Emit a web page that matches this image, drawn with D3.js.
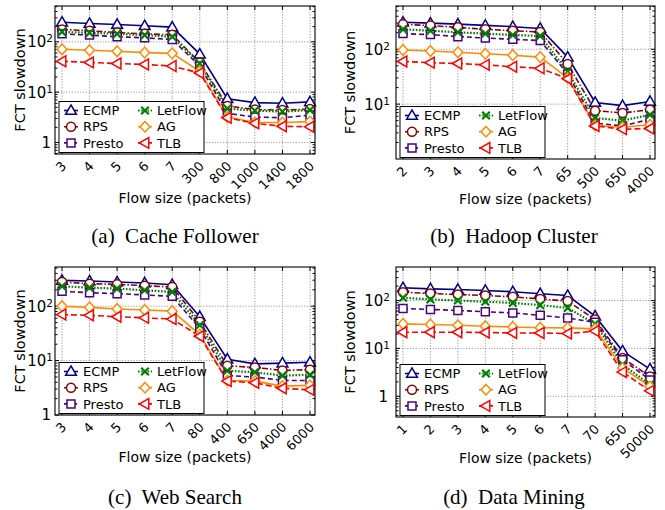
<!DOCTYPE html>
<html>
<head>
<meta charset="utf-8">
<script src="https://cdn.jsdelivr.net/npm/d3@7"></script>
<style>
  body { margin: 0; background: #fff; }
  svg { display: block; }
</style>
</head>
<body>
<script>
// ---- data -------------------------------------------------------------
const seriesNames = ["ECMP", "RPS", "Presto", "LetFlow", "AG", "TLB"];

// (a) Cache Follower
const cacheSizes = ["3", "4", "5", "6", "7", "300", "800", "1000", "1400", "1800"];
const cacheECMP    = [245, 231, 221, 208, 196, 57, 7.4, 6.2, 6.0, 6.4];
const cacheRPS     = [176, 166, 153, 144, 138, 39, 5.3, 4.5, 4.4, 4.6];
const cachePresto  = [144, 136, 126, 120, 111, 33, 3.8, 3.2, 3.1, 3.5];
const cacheLetFlow = [158, 151, 144, 136, 126, 37, 4.7, 4.3, 4.1, 4.4];
const cacheAG      = [71, 68, 65, 61, 59, 26, 3.2, 2.5, 2.5, 2.6];
const cacheTLB     = [41, 39, 37, 35.5, 33, 24, 3.1, 2.4, 2.1, 2.05];

// (b) Hadoop Cluster
const hadoopSizes = ["2", "3", "4", "5", "6", "7", "65", "500", "650", "4000"];
const hadoopECMP    = [310, 300, 287, 273, 258, 240, 72, 10.7, 9.4, 11.2];
const hadoopRPS     = [285, 270, 251, 231, 218, 207, 54, 7.6, 6.9, 7.9];
const hadoopPresto  = [193, 185, 170, 161, 152, 144, 35.5, 4.5, 4.0, 5.3];
const hadoopLetFlow = [231, 218, 204, 193, 182, 175, 39, 5.6, 5.0, 6.4];
const hadoopAG      = [97, 93, 88, 83, 78, 72, 30, 4.1, 3.8, 4.2];
const hadoopTLB     = [60, 57, 55, 52, 48, 45, 29, 4.0, 3.5, 3.6];

// (c) Web Search
const webSizes = ["3", "4", "5", "6", "7", "80", "400", "650", "4000", "6000"];
const webECMP    = [298, 290, 278, 267, 248, 64, 10.6, 8.7, 9.0, 9.3];
const webRPS     = [278, 259, 252, 238, 225, 52, 8.0, 7.5, 6.6, 6.8];
const webPresto  = [188, 177, 170, 161, 152, 39, 5.3, 5.0, 4.3, 4.3];
const webLetFlow = [232, 219, 210, 196, 183, 45, 6.5, 6.1, 5.3, 5.5];
const webAG      = [100, 95, 89, 85, 81, 30, 4.3, 4.2, 3.4, 3.5];
const webTLB     = [70, 68, 64, 61, 58, 28, 4.2, 3.9, 3.1, 2.9];

// (d) Data Mining
const miningSizes = ["1", "2", "3", "4", "5", "6", "7", "70", "650", "50000"];
const miningECMP    = [184, 175, 170, 162, 152, 138, 127, 47, 8.8, 3.7];
const miningRPS     = [149, 140, 133, 127, 119, 108, 97, 40, 6.3, 2.6];
const miningPresto  = [68, 65, 62, 58, 55, 49, 43, 35, 5.8, 2.2];
const miningLetFlow = [114, 105, 100, 94, 89, 80, 70, 32.5, 4.6, 1.75];
const miningAG      = [32.5, 31.5, 30.5, 29, 28, 27, 26.8, 25.6, 3.9, 1.6];
const miningTLB     = [21.8, 21.8, 21.8, 21.5, 21, 21, 20.4, 23, 3.2, 1.3];

const captions = ["(a)  Cache Follower", "(b)  Hadoop Cluster", "(c)  Web Search", "(d)  Data Mining"];

// ---- layout & styles --------------------------------------------------
const W = 665, H = 510;

const panels = [
  { sizes: cacheSizes,  values: [cacheECMP, cacheRPS, cachePresto, cacheLetFlow, cacheAG, cacheTLB],
    box: [55, 6, 315, 154],  yDomain: [0.59, 515], yTicks: [1, 10, 100], tickGap: 2, titleGap: 30,
    xLabelY: 203, caption: [175, 243] },
  { sizes: hadoopSizes, values: [hadoopECMP, hadoopRPS, hadoopPresto, hadoopLetFlow, hadoopAG, hadoopTLB],
    box: [396, 6, 655, 159], yDomain: [1.0, 615],  yTicks: [10, 100], tickGap: 6, titleGap: 41,
    xLabelY: 204, caption: [514, 243] },
  { sizes: webSizes,    values: [webECMP, webRPS, webPresto, webLetFlow, webAG, webTLB],
    box: [55, 267, 315, 415], yDomain: [1.0, 525], yTicks: [1, 10, 100], tickGap: 2, titleGap: 30,
    xLabelY: 462, caption: [175, 504] },
  { sizes: miningSizes, values: [miningECMP, miningRPS, miningPresto, miningLetFlow, miningAG, miningTLB],
    box: [396, 267, 655, 417], yDomain: [0.37, 500], yTicks: [1, 10, 100], tickGap: 6, titleGap: 41,
    xLabelY: 463, caption: [514, 504] }
];

const styles = {
  ECMP:    { color: "#00008b", dash: null,          width: 1.6, marker: "triUp" },
  RPS:     { color: "#8b0000", dash: "6,2,1.5,2",   width: 1.6, marker: "circle" },
  Presto:  { color: "#4b0082", dash: "5,3",         width: 1.6, marker: "square" },
  LetFlow: { color: "#008000", dash: "1.6,1.6",     width: 2.2, marker: "x" },
  AG:      { color: "#ff8c00", dash: null,          width: 1.6, marker: "diamond" },
  TLB:     { color: "#ff0000", dash: "6,3",         width: 1.6, marker: "triLeft" }
};

const sansFont = "'DejaVu Sans', 'Noto Sans', sans-serif";
const serifFont = "'Liberation Serif', 'DejaVu Serif', serif";

function markerPath(type) {
  switch (type) {
    case "triUp":   return "M0,-5.6L5.4,3.8L-5.4,3.8Z";
    case "circle":  return d3.arc()({ innerRadius: 0, outerRadius: 4.5, startAngle: 0, endAngle: 2 * Math.PI });
    case "square":  return "M-4,-4H4V4H-4Z";
    case "x":       return "M-3.8,-3.8L3.8,3.8M-3.8,3.8L3.8,-3.8";
    case "diamond": return "M0,-5.3L4.9,0L0,5.3L-4.9,0Z";
    case "triLeft": return "M-5.6,0L3.8,-5.4L3.8,5.4Z";
  }
}

function drawMarker(g, name, x, y) {
  const st = styles[name];
  g.append("path")
    .attr("d", markerPath(st.marker))
    .attr("transform", `translate(${x},${y})`)
    .attr("fill", st.marker === "x" ? "none" : "#fff")
    .attr("stroke", st.color)
    .attr("stroke-width", st.marker === "x" ? 2.2 : 1.5);
}

const svg = d3.select("body").append("svg")
  .attr("width", W).attr("height", H)
  .attr("viewBox", `0 0 ${W} ${H}`);

panels.forEach((p, pi) => {
  const [x0, y0, x1, y1] = p.box;
  const g = svg.append("g");

  // categories are evenly spaced, with small inner margins to the frame
  const x = d3.scalePoint().domain(p.sizes).range([x0 + 7, x1 - 5]);
  const y = d3.scaleLog().domain(p.yDomain).range([y1, y0]);

  // grid
  const grid = g.append("g").attr("stroke", "#808080").attr("stroke-width", 0.8).attr("stroke-dasharray", "1.2,1.6");
  p.sizes.forEach(s => grid.append("line").attr("x1", x(s)).attr("x2", x(s)).attr("y1", y0).attr("y2", y1));
  p.yTicks.forEach(v => grid.append("line").attr("x1", x0).attr("x2", x1).attr("y1", y(v)).attr("y2", y(v)));

  // inward ticks on all four sides
  const ticks = g.append("g").attr("stroke", "#000").attr("stroke-width", 1);
  p.sizes.forEach(s => {
    ticks.append("line").attr("x1", x(s)).attr("x2", x(s)).attr("y1", y1).attr("y2", y1 - 4);
    ticks.append("line").attr("x1", x(s)).attr("x2", x(s)).attr("y1", y0).attr("y2", y0 + 4);
  });
  p.yTicks.forEach(v => {
    ticks.append("line").attr("x1", x0).attr("x2", x0 + 4).attr("y1", y(v)).attr("y2", y(v));
    ticks.append("line").attr("x1", x1).attr("x2", x1 - 4).attr("y1", y(v)).attr("y2", y(v));
  });
  const [lo, hi] = p.yDomain;
  [0.1, 1, 10, 100].forEach(dec => {
    for (let m = 2; m <= 9; m++) {
      const v = m * dec;
      if (v <= lo || v >= hi) continue;
      ticks.append("line").attr("x1", x0).attr("x2", x0 + 2.5).attr("y1", y(v)).attr("y2", y(v));
      ticks.append("line").attr("x1", x1).attr("x2", x1 - 2.5).attr("y1", y(v)).attr("y2", y(v));
    }
  });

  // series
  const line = d3.line().x((d, i) => x(p.sizes[i])).y(d => y(d));
  seriesNames.forEach((name, si) => {
    const st = styles[name];
    g.append("path")
      .attr("d", line(p.values[si]))
      .attr("fill", "none")
      .attr("stroke", st.color)
      .attr("stroke-width", st.width)
      .attr("stroke-dasharray", st.dash);
  });
  seriesNames.forEach((name, si) => {
    p.values[si].forEach((v, i) => drawMarker(g, name, x(p.sizes[i]), y(v)));
  });

  // frame
  g.append("rect").attr("x", x0).attr("y", y0).attr("width", x1 - x0).attr("height", y1 - y0)
    .attr("fill", "none").attr("stroke", "#000").attr("stroke-width", 1.1);

  // y tick labels
  p.yTicks.forEach(v => {
    const t = g.append("text")
      .attr("x", x0 - p.tickGap).attr("y", y(v)).attr("dy", "0.36em")
      .attr("text-anchor", "end")
      .attr("font-family", sansFont).attr("font-size", 15).attr("fill", "#000");
    if (v === 1) {
      t.attr("x", x0 - p.tickGap - 2).text("1");
    } else {
      t.append("tspan").text("10");
      t.append("tspan").attr("dy", "-0.45em").attr("font-size", 10.5).text(Math.round(Math.log10(v)));
    }
  });

  // x tick labels, rotated
  p.sizes.forEach(s => {
    g.append("text")
      .attr("transform", `translate(${x(s) + 5},${y1 + 13}) rotate(-45)`)
      .attr("text-anchor", "end")
      .attr("font-family", sansFont).attr("font-size", 13).attr("fill", "#000")
      .text(s);
  });

  // axis titles
  g.append("text")
    .attr("x", (x0 + x1) / 2).attr("y", p.xLabelY)
    .attr("text-anchor", "middle")
    .attr("font-family", sansFont).attr("font-size", 14).attr("fill", "#000")
    .text("Flow size (packets)");
  g.append("text")
    .attr("transform", `translate(${x0 - p.titleGap},${(y0 + y1) / 2}) rotate(-90)`)
    .attr("text-anchor", "middle")
    .attr("font-family", sansFont).attr("font-size", 14.5).attr("fill", "#000")
    .text("FCT slowdown");

  // legend
  const lw = 145, lh = 51;
  const lx = x0 + 4, ly = y1 - lh - 1.5;
  const lg = g.append("g");
  lg.append("rect").attr("x", lx).attr("y", ly).attr("width", lw).attr("height", lh)
    .attr("fill", "#fff").attr("stroke", "#000").attr("stroke-width", 1);
  seriesNames.forEach((name, si) => {
    const col = Math.floor(si / 3), row = si % 3;
    const mx = lx + (col === 0 ? 12 : 86);
    const my = ly + 9 + row * 16.2;
    const st = styles[name];
    lg.append("line").attr("x1", mx - 7).attr("x2", mx + 7).attr("y1", my).attr("y2", my)
      .attr("stroke", st.color).attr("stroke-width", st.width).attr("stroke-dasharray", st.dash);
    drawMarker(lg, name, mx, my);
    lg.append("text")
      .attr("x", mx + 12).attr("y", my).attr("dy", "0.36em")
      .attr("font-family", sansFont).attr("font-size", 13).attr("fill", "#000")
      .text(name);
  });

  // caption
  svg.append("text")
    .attr("x", p.caption[0]).attr("y", p.caption[1])
    .attr("text-anchor", "middle")
    .attr("font-family", serifFont).attr("font-size", 21).attr("fill", "#000")
    .style("white-space", "pre")
    .text(captions[pi]);
});
</script>
</body>
</html>
